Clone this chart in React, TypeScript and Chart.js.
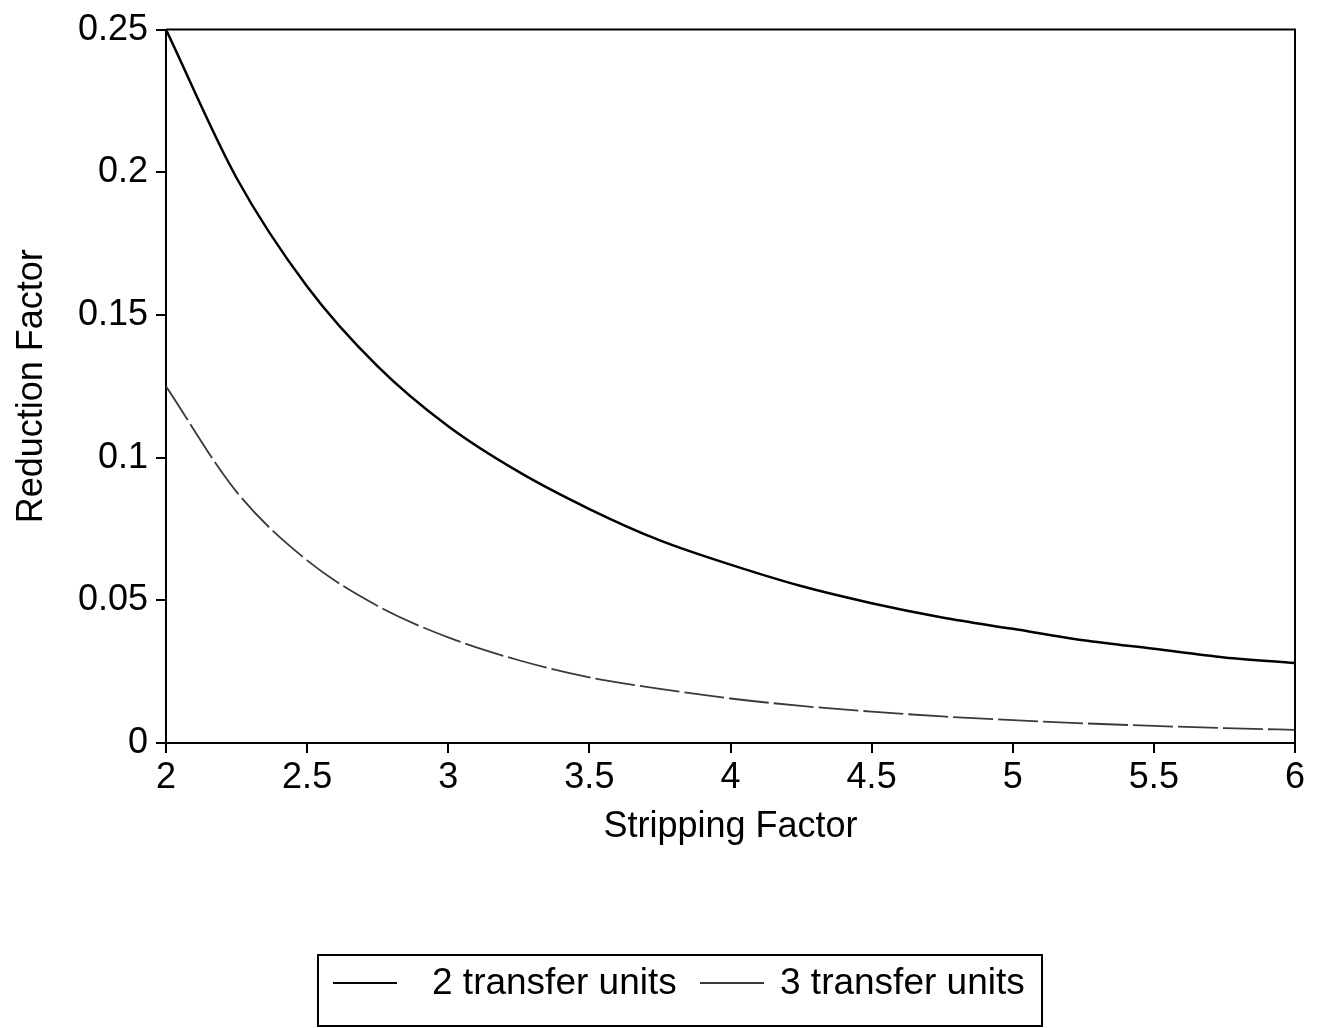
import { useEffect, useRef } from 'react';
import { Chart, registerables, type Plugin } from 'chart.js';

Chart.register(...registerables);

// stripping factor sample points
const strippingFactor = [2, 2.25, 2.5, 2.75, 3, 3.25, 3.5, 3.75, 4, 4.25, 4.5, 4.75, 5, 5.25, 5.5, 5.75, 6];

// reduction factor
const twoUnits = [0.25, 0.198, 0.16, 0.132, 0.111, 0.095, 0.082, 0.071, 0.0625, 0.055, 0.049, 0.044, 0.04, 0.036, 0.033, 0.03, 0.028];
const threeUnits = [0.125, 0.088, 0.064, 0.048, 0.037, 0.029, 0.023, 0.019, 0.0156, 0.013, 0.011, 0.0093, 0.008, 0.0069, 0.006, 0.0052, 0.0046];

const seriesLabels = ['2 transfer units', '3 transfer units'];

const FONT = '"Liberation Sans", Arial, Helvetica, sans-serif';
const FONT_SIZE = 36;

// plain number labels: 2, 2.5, 0.2, 0.15 ...
const plain = (v: string | number) => String(Number(Number(v).toFixed(3)));

// ── Plugins ──────────────────────────────────────────────────────────────────

// closes the plot box on top and right
const frame: Plugin<'line'> = {
  id: 'frame',
  afterDraw(chart) {
    const { ctx, chartArea: a } = chart;
    ctx.save();
    ctx.strokeStyle = '#000';
    ctx.lineWidth = 2;
    ctx.beginPath();
    ctx.moveTo(a.left, a.top);
    ctx.lineTo(a.right, a.top);
    ctx.lineTo(a.right, a.bottom);
    ctx.stroke();
    ctx.restore();
  },
};

// boxed legend under the axis title
const boxedLegend: Plugin<'line'> = {
  id: 'boxedLegend',
  afterDraw(chart) {
    const { ctx } = chart;
    const boxLeft = 318, boxTop = 955, boxRight = 1042, boxBottom = 1026;
    const rowY = 983;
    ctx.save();
    ctx.strokeStyle = '#000';
    ctx.lineWidth = 2;
    ctx.strokeRect(boxLeft, boxTop, boxRight - boxLeft, boxBottom - boxTop);

    ctx.font = `37px ${FONT}`;
    ctx.textBaseline = 'middle';
    ctx.fillStyle = '#000';
    const starts = [333, 700];
    chart.data.datasets.forEach((ds, i) => {
      const x = starts[i];
      ctx.strokeStyle = ds.borderColor as string;
      ctx.lineWidth = 2;
      ctx.beginPath();
      ctx.moveTo(x, rowY);
      ctx.lineTo(x + 64, rowY);
      ctx.stroke();
      ctx.fillText(ds.label ?? '', x + (i === 0 ? 99 : 80), rowY + 1);
    });
    ctx.restore();
  },
};

export default function App() {
  const canvasRef = useRef<HTMLCanvasElement>(null);

  useEffect(() => {
    if (!canvasRef.current) return;
    document.body.style.margin = '0';

    const chart = new Chart(canvasRef.current, {
      type: 'line',
      data: {
        labels: strippingFactor,
        datasets: [
          {
            label: seriesLabels[0],
            data: strippingFactor.map((x, i) => ({ x, y: twoUnits[i] })),
            borderColor: '#000',
            borderWidth: 2.5,
            pointRadius: 0,
            cubicInterpolationMode: 'monotone',
          },
          {
            label: seriesLabels[1],
            data: strippingFactor.map((x, i) => ({ x, y: threeUnits[i] })),
            borderColor: '#3a3a3a',
            borderWidth: 1.8,
            borderDash: [40, 5],
            pointRadius: 0,
            cubicInterpolationMode: 'monotone',
          },
        ],
      },
      options: {
        responsive: false,
        animation: false,
        layout: { padding: { top: 29, right: 30, bottom: 175, left: 6 } },
        plugins: {
          legend: { display: false },
          tooltip: { enabled: false },
        },
        scales: {
          x: {
            type: 'linear',
            min: 2,
            max: 6,
            afterFit: (scale) => { scale.height = 110; },
            border: { color: '#000', width: 2 },
            grid: { drawOnChartArea: false, drawTicks: true, tickLength: 10, color: '#000', lineWidth: 2 },
            ticks: {
              stepSize: 0.5,
              color: '#000',
              padding: 3,
              maxRotation: 0,
              callback: plain,
              font: { family: FONT, size: FONT_SIZE },
            },
            title: {
              display: true,
              text: 'Stripping Factor',
              color: '#000',
              font: { family: FONT, size: FONT_SIZE },
            },
          },
          y: {
            min: 0,
            max: 0.25,
            afterFit: (scale) => { scale.width = 160; },
            border: { color: '#000', width: 2 },
            grid: { drawOnChartArea: false, drawTicks: true, tickLength: 10, color: '#000', lineWidth: 2 },
            ticks: {
              stepSize: 0.05,
              color: '#000',
              padding: 8,
              callback: plain,
              font: { family: FONT, size: FONT_SIZE },
            },
            title: {
              display: true,
              text: 'Reduction Factor',
              color: '#000',
              font: { family: FONT, size: FONT_SIZE },
            },
          },
        },
      },
      plugins: [frame, boxedLegend],
    });

    return () => { chart.destroy(); };
  }, []);

  return (
    <div style={{ position: 'absolute', left: 0, top: 0, width: 1325, height: 1028, background: '#fff' }}>
      <canvas ref={canvasRef} width={1325} height={1028} style={{ width: 1325, height: 1028 }} />
    </div>
  );
}
